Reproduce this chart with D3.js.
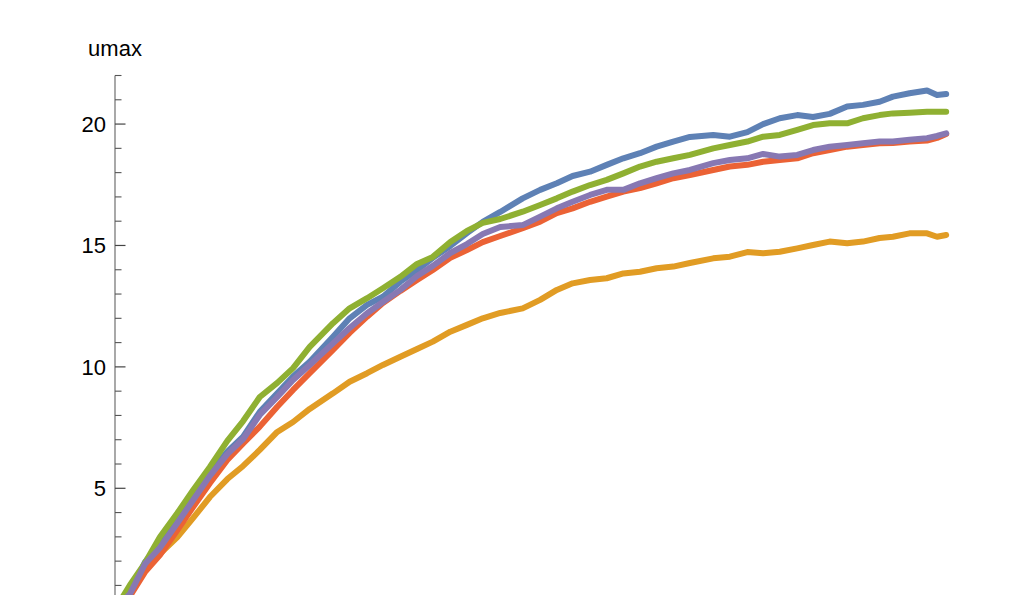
<!DOCTYPE html>
<html>
<head>
<meta charset="utf-8">
<script src="https://d3js.org/d3.v7.min.js"></script>
<style>
  html, body { margin: 0; padding: 0; background: #fff; }
  svg { display: block; }
</style>
</head>
<body>
<svg></svg>
<script>
// step index shared by every run (x axis is below the visible area)
var steps = [0, 18, 36, 54, 75, 94, 114, 135, 154, 174, 195, 214, 234, 262, 282, 303, 322, 343, 363, 382,
  403, 423, 442, 463, 490, 511, 531, 550, 571, 591, 611, 631, 651, 671, 691, 719, 739, 760, 779, 799,
  820, 839, 859, 880, 899, 919, 935, 955, 976, 988, 999];

var umax1 = [0, 0.68, 1.96, 2.72, 3.69, 4.65, 5.62, 6.51, 7.13, 8.15, 8.91, 9.60, 10.21, 11.24, 12.00, 12.55, 12.89, 13.51, 13.99, 14.49,
  14.98, 15.51, 15.97, 16.38, 16.94, 17.29, 17.56, 17.86, 18.04, 18.32, 18.59, 18.80, 19.07, 19.28, 19.47, 19.55, 19.48, 19.67, 20.00, 20.24,
  20.37, 20.29, 20.42, 20.72, 20.79, 20.92, 21.13, 21.27, 21.38, 21.20, 21.24];
var umax2 = [0, 0.65, 1.76, 2.30, 2.99, 3.78, 4.64, 5.38, 5.92, 6.58, 7.32, 7.73, 8.27, 8.91, 9.39, 9.74, 10.08, 10.42, 10.74, 11.04,
  11.45, 11.73, 12.00, 12.22, 12.41, 12.76, 13.17, 13.44, 13.58, 13.65, 13.85, 13.92, 14.06, 14.13, 14.28, 14.47, 14.54, 14.73, 14.68, 14.74,
  14.88, 15.02, 15.16, 15.09, 15.16, 15.31, 15.36, 15.50, 15.50, 15.36, 15.43];
var umax3 = [0, 1.02, 1.92, 2.99, 3.98, 4.93, 5.88, 6.95, 7.77, 8.76, 9.34, 9.95, 10.82, 11.80, 12.41, 12.83, 13.24, 13.71, 14.24, 14.53,
  15.14, 15.60, 15.93, 16.09, 16.39, 16.67, 16.94, 17.22, 17.49, 17.70, 17.97, 18.25, 18.45, 18.59, 18.73, 19.00, 19.14, 19.28, 19.48, 19.55,
  19.76, 19.96, 20.03, 20.03, 20.24, 20.37, 20.44, 20.47, 20.51, 20.51, 20.51];
var umax4 = [0, 0.56, 1.55, 2.25, 3.28, 4.24, 5.21, 6.17, 6.85, 7.54, 8.36, 9.05, 9.74, 10.70, 11.40, 12.07, 12.63, 13.13, 13.58, 13.99,
  14.49, 14.81, 15.14, 15.39, 15.71, 15.98, 16.33, 16.53, 16.80, 17.01, 17.22, 17.36, 17.56, 17.77, 17.90, 18.11, 18.25, 18.32, 18.45, 18.52,
  18.59, 18.80, 18.93, 19.07, 19.14, 19.21, 19.22, 19.28, 19.32, 19.43, 19.59];
var umax5 = [0, 0.65, 1.88, 2.55, 3.57, 4.52, 5.51, 6.41, 7.03, 8.02, 8.76, 9.46, 10.08, 10.97, 11.60, 12.21, 12.67, 13.17, 13.74, 14.16,
  14.69, 15.06, 15.47, 15.76, 15.84, 16.19, 16.53, 16.80, 17.08, 17.29, 17.29, 17.56, 17.77, 17.97, 18.11, 18.39, 18.52, 18.59, 18.77, 18.66,
  18.73, 18.93, 19.07, 19.14, 19.21, 19.28, 19.28, 19.35, 19.42, 19.51, 19.62];

var runs = [umax1, umax2, umax3, umax4, umax5];
var colors = ["#5e81b5", "#e19c24", "#8fb032", "#eb6235", "#8778b3"];
var yMajor = [5, 10, 15, 20];
var yMinor = d3.range(1, 23);

var width = 1029, height = 595;
var svg = d3.select("svg").attr("width", width).attr("height", height);

var x = d3.scaleLinear().domain([0, 1000]).range([115, 947]);
var y = d3.scaleLinear().domain([0, 22]).range([609.7, 75.5]);

// y axis: gray spine, minor + major ticks on the right
var axis = svg.append("g").attr("class", "y-axis");
axis.append("line")
    .attr("x1", x(0)).attr("x2", x(0))
    .attr("y1", y(22)).attr("y2", y(0))
    .attr("stroke", "#7a7a7a")
    .attr("stroke-width", 1.3);

axis.selectAll("line.minor")
    .data(yMinor.filter(function (d) { return yMajor.indexOf(d) < 0; }))
    .enter().append("line")
    .attr("class", "minor")
    .attr("x1", x(0)).attr("x2", x(0) + 6.5)
    .attr("y1", function (d) { return y(d); })
    .attr("y2", function (d) { return y(d); })
    .attr("stroke", "#555")
    .attr("stroke-width", 1.1);

axis.selectAll("line.major")
    .data(yMajor)
    .enter().append("line")
    .attr("class", "major")
    .attr("x1", x(0)).attr("x2", x(0) + 10.5)
    .attr("y1", function (d) { return y(d); })
    .attr("y2", function (d) { return y(d); })
    .attr("stroke", "#444")
    .attr("stroke-width", 1.2);

axis.selectAll("text.tick")
    .data(yMajor)
    .enter().append("text")
    .attr("class", "tick")
    .attr("x", x(0) - 9)
    .attr("y", function (d) { return y(d) + 8; })
    .attr("text-anchor", "end")
    .style("font-family", "'Liberation Sans', Arial, sans-serif")
    .style("font-size", "22px")
    .attr("fill", "#000")
    .text(function (d) { return d; });

svg.append("text")
    .attr("x", x(0))
    .attr("y", 56)
    .attr("text-anchor", "middle")
    .style("font-family", "'Liberation Sans', Arial, sans-serif")
    .style("font-size", "22px")
    .attr("fill", "#000")
    .text("umax");

// the runs, drawn in order so later ones sit on top
var line = d3.line()
    .x(function (d, i) { return x(steps[i]); })
    .y(function (d) { return y(d); });

svg.append("g")
    .attr("class", "runs")
    .selectAll("path")
    .data(runs)
    .enter().append("path")
    .attr("d", line)
    .attr("fill", "none")
    .attr("stroke", function (d, i) { return colors[i]; })
    .attr("stroke-width", 6)
    .attr("stroke-linejoin", "round")
    .attr("stroke-linecap", "round");
</script>
</body>
</html>
